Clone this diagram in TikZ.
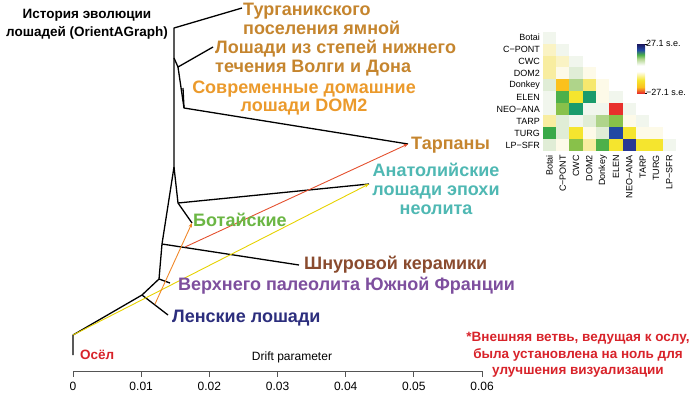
\documentclass[tikz,border=0pt]{standalone}
\usepackage{fontspec}
\setmainfont{Liberation Sans}
\usetikzlibrary{arrows.meta, positioning}

\definecolor{ochre}{HTML}{C5852E}
\definecolor{domorange}{HTML}{EB9A2C}
\definecolor{anateal}{HTML}{4FB8B3}
\definecolor{botgreen}{HTML}{6BB644}
\definecolor{cwcbrown}{HTML}{8A4B2E}
\definecolor{sfrpurple}{HTML}{7E4F9E}
\definecolor{lenanavy}{HTML}{2C2E7D}
\definecolor{donkeyred}{HTML}{D8232A}
\definecolor{migred}{HTML}{E4502E}
\definecolor{migorange}{HTML}{F0882A}
\definecolor{migyellow}{HTML}{E6D200}
\definecolor{axisgray}{HTML}{555555}
% heatmap cells
\definecolor{hmW}{HTML}{F1F6ED}
\definecolor{hmC}{HTML}{FDFAE8}
\definecolor{hmPY}{HTML}{FAF3C4}
\definecolor{hmLY}{HTML}{F8EDA0}
\definecolor{hmMY}{HTML}{F6E86E}
\definecolor{hmY}{HTML}{F5E52E}
\definecolor{hmO}{HTML}{FBC11C}
\definecolor{hmLG}{HTML}{E0EDD6}
\definecolor{hmMG}{HTML}{AFD48A}
\definecolor{hmYG}{HTML}{88C14A}
\definecolor{hmG}{HTML}{4DB04A}
\definecolor{hmDG}{HTML}{38A948}
\definecolor{hmT}{HTML}{1A9B6C}
\definecolor{hmR}{HTML}{E8302C}
\definecolor{hmB}{HTML}{2249A3}
\definecolor{hmN}{HTML}{283894}
\definecolor{senavy}{HTML}{1B1760}

\pgfdeclareverticalshading{sebar}{100bp}{color(0bp)=(hmR); color(25bp)=(hmR);
  color(31bp)=(hmO); color(38bp)=(hmY); color(47bp)=(white); color(53bp)=(white);
  color(60bp)=(hmMG); color(64bp)=(hmG); color(69bp)=(hmB); color(75bp)=(senavy);
  color(100bp)=(senavy)}

\begin{document}
\begin{tikzpicture}[x=1pt, y=-1pt,
  branch/.style={black, line width=1.3pt, line join=round},
  admix/.style={line width=0.9pt, -{Stealth[length=4.5pt, width=3.5pt]}},
  taxon/.style={font=\fontsize{18}{18.5}\selectfont\bfseries, inner sep=0pt, align=left},
  hmlabel/.style={font=\fontsize{9}{10}\selectfont, inner sep=0pt},
  axislabel/.style={font=\fontsize{12}{14}\selectfont, inner sep=0pt}
]
  \useasboundingbox (0,0) rectangle (700,394);

  % tree
  \coordinate (root) at (73,335);
  \coordinate (donkey) at (73,355);
  \coordinate (nA) at (142,295);
  \coordinate (nB) at (159,279);
  \coordinate (nC) at (162,244);
  \coordinate (nD) at (174,167);
  \coordinate (nE) at (178,203);
  \coordinate (nTop) at (174,28);
  \coordinate (nFork) at (174,58);
  \coordinate (nG) at (178,67);
  \coordinate (nH) at (184,108);
  \coordinate (lena) at (168,315);
  \coordinate (lpsfr) at (170,283);
  \coordinate (cwc) at (299,265);
  \coordinate (botai) at (192,223);
  \coordinate (neoana) at (369,184);
  \coordinate (turg) at (242,8);
  \coordinate (volga) at (213,47);
  \coordinate (dom2) at (183,88);
  \coordinate (tarp) at (408,144);
  \coordinate (srcCWC) at (185,247);
  \coordinate (srcLena) at (155,304);

  \draw[branch] (donkey) -- (root) -- (nA) -- (nB) -- (nC) -- (nD) -- (nTop) -- (turg);
  \draw[branch] (nA) -- (lena);
  \draw[branch] (nB) -- (lpsfr);
  \draw[branch] (nC) -- (cwc);
  \draw[branch] (nD) -- (nE) -- (botai);
  \draw[branch] (nE) -- (neoana);
  \draw[branch] (nFork) -- (nG) -- (volga);
  \draw[branch] (nG) -- (nH) -- (tarp);
  \draw[branch] (nH) -- (dom2);

  % admixture
  \draw[admix, migred] (srcCWC) -- (tarp);
  \draw[admix, migyellow] (root) -- (neoana);
  \draw[admix, migorange] (srcLena) -- (botai);

  % labels
  \node[font=\fontsize{13.5}{18}\selectfont\bfseries, align=center] (title) at (87,24)
    {История эволюции\\лошадей (OrientAGraph)};
  \node[taxon, ochre, anchor=west] (turglab) at (243,19) {Турганикского\\поселения ямной};
  \node[taxon, ochre, anchor=west] (volgalab) at (215,58) {Лошади из степей нижнего\\течения Волги и Дона};
  \node[taxon, domorange, align=center] (domlab) at (304,98) {Современные домашние\\лошади DOM2};
  \node[taxon, ochre, anchor=west] (tarplab) at (411,145) {Тарпаны};
  \node[taxon, anateal, align=center, font=\fontsize{18}{19}\selectfont\bfseries] (analab) at (436,189) {Анатолийские\\лошади эпохи\\неолита};
  \node[taxon, botgreen, anchor=west] (botlab) at (193,220) {Ботайские};
  \node[taxon, cwcbrown, anchor=west] (cwclab) at (304,265) {Шнуровой керамики};
  \node[taxon, sfrpurple, anchor=west] (sfrlab) at (178,286) {Верхнего палеолита Южной Франции};
  \node[taxon, lenanavy, anchor=west] (lenalab) at (172,318) {Ленские лошади};
  \node[font=\fontsize{13.5}{16}\selectfont\bfseries, donkeyred, anchor=west, inner sep=0pt] (donkeylab) at (80,355) {Осёл};
  \node[font=\fontsize{13.5}{16.5}\selectfont\bfseries, donkeyred, align=center] (note) at (578,355)
    {*Внешняя ветвь, ведущая к ослу,\\была установлена на ноль для\\улучшения визуализации};

  % axis
  \coordinate (ax0) at (73,371);
  \coordinate (ax6) at (482,371);
  \draw[axisgray, line width=0.8pt] (ax0) -- (ax6);
  \foreach \v [count=\i from 0] in {0,0.01,0.02,0.03,0.04,0.05,0.06}
    \draw[axisgray, line width=0.8pt] (73+68.17*\i,371) -- ++(0,6)
      node[axislabel, black, anchor=north, yshift=-4.5pt] (tick\i) {\v};
  \node[axislabel] (driftlab) at (292,357) {Drift parameter};

  % heatmap
  \foreach \r/\c/\col in {0/0/hmW,
      1/0/hmPY, 1/1/hmW,
      2/0/hmLY, 2/1/hmPY, 2/2/hmW,
      3/0/hmLY, 3/1/hmC, 3/2/hmLG, 3/3/hmC,
      4/0/hmLG, 4/1/hmO, 4/2/hmMG, 4/3/hmMY, 4/4/hmC,
      5/0/hmW, 5/1/hmG, 5/2/hmY, 5/3/hmT, 5/4/hmC, 5/5/hmW,
      6/0/hmW, 6/1/hmYG, 6/2/hmT, 6/3/hmW, 6/4/hmW, 6/5/hmR, 6/6/hmW,
      7/0/hmLY, 7/1/hmLG, 7/2/hmW, 7/3/hmLG, 7/4/hmMG, 7/5/hmYG, 7/6/hmC, 7/7/hmW,
      8/0/hmDG, 8/1/hmLG, 8/2/hmY, 8/3/hmC, 8/4/hmLG, 8/5/hmB, 8/6/hmY, 8/7/hmC, 8/8/hmC,
      9/0/hmLG, 9/1/hmC, 9/2/hmYG, 9/3/hmLY, 9/4/hmG, 9/5/hmY, 9/6/hmN, 9/7/hmY, 9/8/hmY, 9/9/hmW}
    \fill[\col] ({542.7+13.33*\c},{31.7+11.93*\r}) rectangle ++(13.33,11.93);
  \foreach \name [count=\i from 0] in {Botai,C−PONT,CWC,DOM2,Donkey,ELEN,NEO−ANA,TARP,TURG,LP−SFR} {
    \node[hmlabel, anchor=east] (row\i) at (540,{31.7+11.93*(\i+0.5)}) {\name};
    \node[hmlabel, anchor=east, rotate=90] (col\i) at ({542.7+13.33*(\i+0.5)},155) {\name};
  }

  % colour bar
  \shade[shading=sebar] (637,44) rectangle (645,93);
  \draw[black, line width=0.5pt] (645,44) -- (647,44) (645,93) -- (647,93);
  \node[hmlabel, anchor=west] (setop) at (646,43) {27.1 s.e.};
  \node[hmlabel, anchor=west] (sebot) at (646,92) {−27.1 s.e.};
\end{tikzpicture}
\end{document}
